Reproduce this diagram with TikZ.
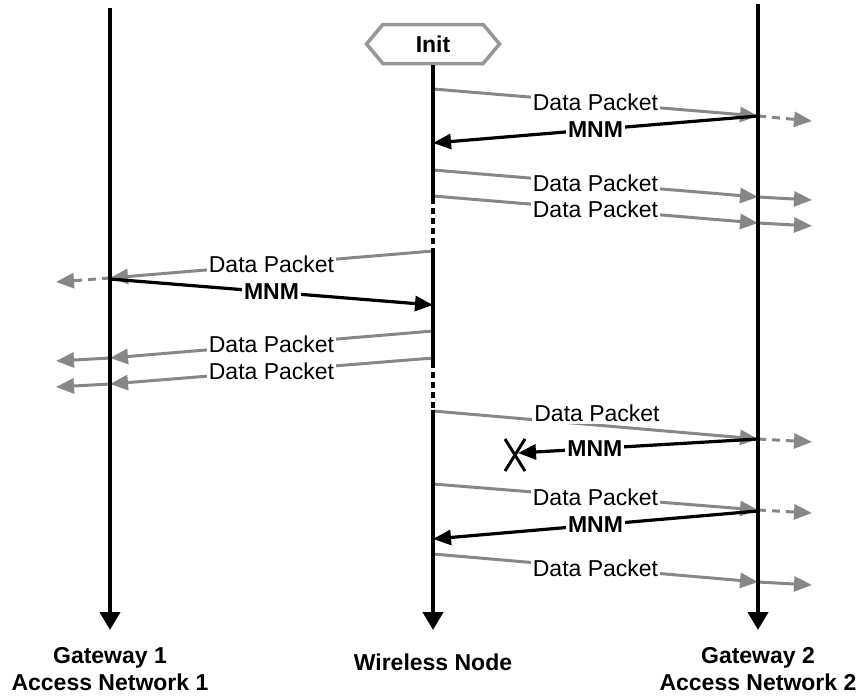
\documentclass[tikz,border=0pt]{standalone}
\usepackage{fontspec}
\setmainfont{Liberation Sans}
\usetikzlibrary{arrows.meta,shapes.symbols}
\definecolor{pk}{RGB}{135,135,135}
\definecolor{hexgray}{RGB}{150,150,150}
\begin{document}
\begin{tikzpicture}[x=1pt,y=-1pt,
  lifeline/.style={line width=4pt,-{Triangle[length=18pt,width=20pt]}},
  wnsolid/.style={line width=4pt},
  wndot/.style={line width=4pt,dash pattern=on 6pt off 4pt},
  datamsg/.style={draw=pk,line width=3pt,-{Triangle[length=18pt,width=15pt]}},
  contdash/.style={datamsg,dash pattern=on 8pt off 6pt},
  mnmmsg/.style={draw=black,line width=3.2pt,-{Triangle[length=18pt,width=15pt]}},
  dlabel/.style={fill=white,inner xsep=2pt,inner ysep=1pt,text=black,font=\fontsize{23}{27}\selectfont},
  mlabel/.style={dlabel,font=\fontsize{23}{27}\selectfont\bfseries},
  caption/.style={align=center,font=\fontsize{23}{27}\selectfont\bfseries}]
\useasboundingbox (0,0) rectangle (860,696);

% nodes
\node[signal, signal to=west and east, draw=hexgray, line width=3.5pt, fill=white,
      minimum width=133pt, minimum height=39pt, signal pointer angle=100, inner sep=0pt,
      font=\fontsize{23}{27}\selectfont\bfseries] (init) at (433,44) {Init};
\node[caption] (g1cap) at (110,669) {Gateway 1\\Access Network 1};
\node[caption] (wncap) at (433,662) {Wireless Node};
\node[caption] (g2cap) at (758,669) {Gateway 2\\Access Network 2};

% lifeline coordinates
\coordinate (g1top) at (110,8);   \coordinate (g1bot) at (110,630);
\coordinate (g2top) at (758,4);   \coordinate (g2bot) at (758,630);
\coordinate (wnbot) at (433,630);
\coordinate (wd1a) at (433,198); \coordinate (wd1b) at (433,248);
\coordinate (wd2a) at (433,362); \coordinate (wd2b) at (433,410);

% message coordinates
\coordinate (m1a) at (433,89);  \coordinate (m1b) at (758,116); \coordinate (m1c) at (812,121);
\coordinate (m2a) at (758,116); \coordinate (m2b) at (433,143);
\coordinate (m3a) at (433,170); \coordinate (m3b) at (758,197); \coordinate (m3c) at (812,200);
\coordinate (m4a) at (433,196); \coordinate (m4b) at (758,223); \coordinate (m4c) at (812,226);
\coordinate (m5a) at (433,251); \coordinate (m5b) at (110,278); \coordinate (m5c) at (56,282);
\coordinate (m6a) at (110,279); \coordinate (m6b) at (433,305);
\coordinate (m7a) at (433,331); \coordinate (m7b) at (110,358); \coordinate (m7c) at (56,361);
\coordinate (m8a) at (433,358); \coordinate (m8b) at (110,384); \coordinate (m8c) at (56,387);
\coordinate (m9a) at (433,411); \coordinate (m9b) at (758,439); \coordinate (m9c) at (812,442);
\coordinate (m10a) at (758,439); \coordinate (m10b) at (518,453); \coordinate (lost) at (515,455);
\coordinate (m11a) at (433,484); \coordinate (m11b) at (758,510); \coordinate (m11c) at (812,513);
\coordinate (m12a) at (758,511); \coordinate (m12b) at (433,539);
\coordinate (m13a) at (433,554); \coordinate (m13b) at (758,582); \coordinate (m13c) at (812,585);

% messages
\draw[datamsg] (m1a) -- node[dlabel] (l1) {Data Packet} (m1b);
\draw[contdash] (m1b) -- (m1c);
\draw[mnmmsg] (m2a) -- node[mlabel] (l2) {MNM} (m2b);
\draw[datamsg] (m3a) -- node[dlabel] (l3) {Data Packet} (m3b);
\draw[datamsg] (m3b) -- (m3c);
\draw[datamsg] (m4a) -- node[dlabel] (l4) {Data Packet} (m4b);
\draw[datamsg] (m4b) -- (m4c);
\draw[datamsg] (m5a) -- node[dlabel] (l5) {Data Packet} (m5b);
\draw[contdash] (m5b) -- (m5c);
\draw[mnmmsg] (m6a) -- node[mlabel] (l6) {MNM} (m6b);
\draw[datamsg] (m7a) -- node[dlabel] (l7) {Data Packet} (m7b);
\draw[datamsg] (m7b) -- (m7c);
\draw[datamsg] (m8a) -- node[dlabel] (l8) {Data Packet} (m8b);
\draw[datamsg] (m8b) -- (m8c);
\draw[datamsg] (m9a) -- (m9b);
\node[dlabel,inner ysep=3pt] (l9) at (597,413) {Data Packet};
\draw[contdash] (m9b) -- (m9c);
\draw[mnmmsg] (m10a) -- node[mlabel,pos=0.68] (l10) {MNM} (m10b);
\draw[line width=3pt] ([shift={(-10,-16)}]lost) -- ([shift={(10,16)}]lost)
                      ([shift={(10,-16)}]lost) -- ([shift={(-10,16)}]lost);
\draw[datamsg] (m11a) -- node[dlabel] (l11) {Data Packet} (m11b);
\draw[contdash] (m11b) -- (m11c);
\draw[mnmmsg] (m12a) -- node[mlabel] (l12) {MNM} (m12b);
\draw[datamsg] (m13a) -- node[dlabel] (l13) {Data Packet} (m13b);
\draw[datamsg] (m13b) -- (m13c);

% lifelines
\draw[lifeline] (g1top) -- (g1bot);
\draw[lifeline] (g2top) -- (g2bot);
\draw[wnsolid] (init.south) -- (wd1a);
\draw[wndot] (wd1a) -- (wd1b);
\draw[wnsolid] (wd1b) -- (wd2a);
\draw[wndot] (wd2a) -- (wd2b);
\draw[lifeline] (wd2b) -- (wnbot);
\end{tikzpicture}
\end{document}
